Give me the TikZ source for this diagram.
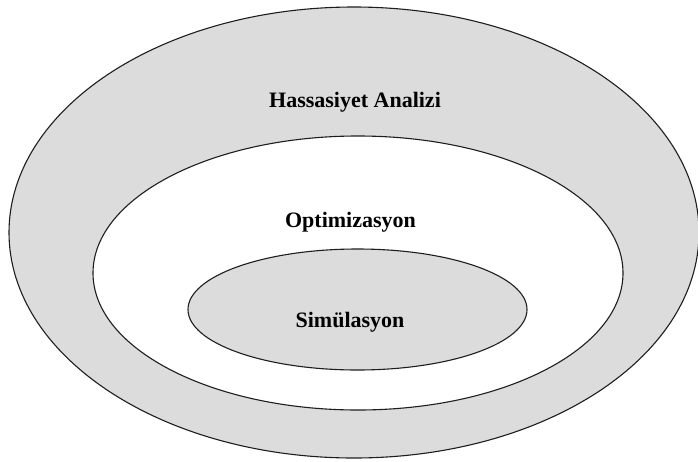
\documentclass[tikz,border=0pt]{standalone}
\usepackage{fontspec}
\setmainfont{Liberation Serif}
\usetikzlibrary{shapes.geometric}
\definecolor{ringgray}{HTML}{DCDCDC}
\definecolor{edgegray}{HTML}{1E1E1E}
\tikzset{
  ring/.style={ellipse, draw=edgegray, line width=1.1pt, inner sep=0pt, outer sep=0pt},
  label/.style={anchor=base, inner sep=0pt, font=\fontsize{22}{24}\selectfont\bfseries, text=black}
}
\begin{document}
\begin{tikzpicture}[x=1pt,y=-1pt]
\useasboundingbox (0,0) rectangle (698,461);
\fill[white] (0,0) rectangle (698,461);
\node[ring, fill=ringgray, minimum width=690pt, minimum height=451pt] (outer) at (354,232.5) {};
\node[ring, fill=white, minimum width=530pt, minimum height=274pt] (middle) at (358,273) {};
\node[ring, fill=ringgray, minimum width=339pt, minimum height=121pt] (inner) at (357.5,309.5) {};
\node[label] (hass) at (355,107) {Hassasiyet Analizi};
\node[label] (opt) at (350.5,227) {Optimizasyon};
\node[label] (sim) at (350,327) {Simülasyon};
\end{tikzpicture}
\end{document}
